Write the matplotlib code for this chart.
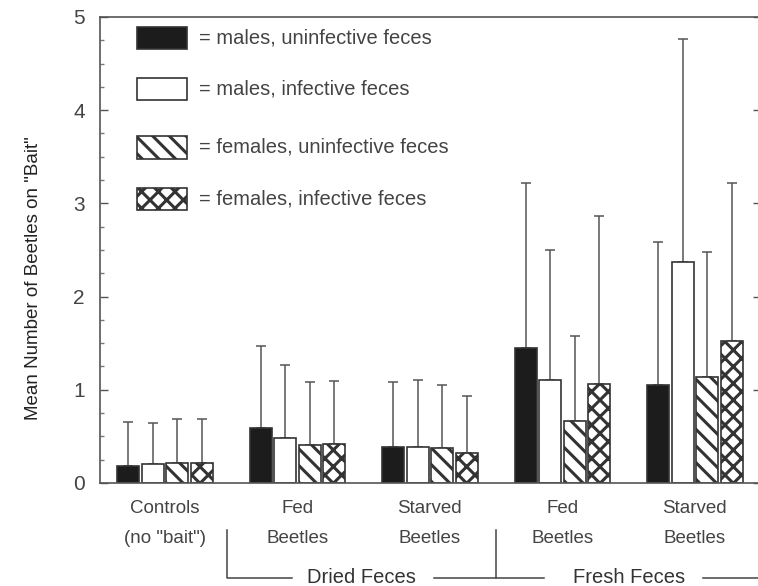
import numpy as np
import matplotlib
matplotlib.use("Agg")
import matplotlib.pyplot as plt
from matplotlib.patches import Rectangle
import matplotlib.transforms as mtransforms

plt.rcParams['font.family'] = ['Liberation Sans', 'DejaVu Sans']
plt.rcParams['hatch.linewidth'] = 2.2
plt.rcParams['hatch.color'] = '#2a2a2a'

# grupos e series
groups = ['Controls\n(no "bait")', 'Fed\nBeetles', 'Starved\nBeetles', 'Fed\nBeetles', 'Starved\nBeetles']
series = ['= males, uninfective feces', '= males, infective feces',
          '= females, uninfective feces', '= females, infective feces']

males_uninf = [0.18, 0.59, 0.39, 1.45, 1.05]
males_inf = [0.20, 0.48, 0.39, 1.10, 2.37]
females_uninf = [0.21, 0.41, 0.37, 0.66, 1.14]
females_inf = [0.21, 0.42, 0.32, 1.06, 1.52]

males_uninf_sd = [0.47, 0.88, 0.69, 1.77, 1.53]
males_inf_sd = [0.44, 0.79, 0.71, 1.40, 2.39]
females_uninf_sd = [0.48, 0.67, 0.68, 0.92, 1.34]
females_inf_sd = [0.48, 0.67, 0.61, 1.80, 1.70]

means = [males_uninf, males_inf, females_uninf, females_inf]
sds = [males_uninf_sd, males_inf_sd, females_uninf_sd, females_inf_sd]
faces = ['#1c1c1c', 'white', 'white', 'white']
hatches = [None, None, '\\\\', 'xx']

fig = plt.figure(figsize=(7.58, 5.86), dpi=100)
ax = fig.add_axes([0.132, 0.176, 0.872, 0.795])

x = np.arange(len(groups))
w = 0.166
step = 0.185
for i in range(4):
    xi = x + (i - 1.5) * step
    ax.bar(xi, means[i], width=w, color=faces[i], edgecolor='#333333',
           linewidth=1.2, hatch=hatches[i], zorder=2)
    ax.errorbar(xi, means[i], yerr=[np.zeros(len(groups)), sds[i]], fmt='none',
                ecolor='#555555', elinewidth=1.1, capsize=3.5, capthick=1.1, zorder=1)

ax.set_xlim(-0.49, 4.5)
ax.set_ylim(0, 5)
ax.set_yticks([0, 1, 2, 3, 4, 5])
ax.set_yticks(np.arange(0, 5.01, 0.25), minor=True)
ax.tick_params(axis='y', which='major', direction='in', length=6, width=1,
               color='#555555', labelsize=15, labelcolor='#444444', pad=11)
ax.tick_params(axis='y', which='minor', direction='in', length=3, width=1, color='#777777')
ax.tick_params(axis='y', which='major', right=True)
ax.set_xticks(x)
ax.set_xticklabels(groups, fontsize=13.5, color='#444444', linespacing=2.0)
ax.tick_params(axis='x', length=0, pad=12)
for s in ax.spines.values():
    s.set_color('#555555')
    s.set_linewidth(1.2)

ax.set_ylabel('Mean Number of Beetles on "Bait"', fontsize=13.5, color='#222222')
ax.yaxis.set_label_coords(-0.088, 0.44)

# legenda desenhada dentro do grafico
for i in range(4):
    yc = [0.955, 0.845, 0.72, 0.61][i]
    ax.add_patch(Rectangle((0.056, yc - 0.024), 0.076, 0.048, transform=ax.transAxes,
                           facecolor=faces[i], edgecolor='#333333', linewidth=1.2,
                           hatch=hatches[i], zorder=3))
    ax.text(0.149, yc, series[i], transform=ax.transAxes, fontsize=14.5,
            color='#444444', va='center', ha='left')

# colchetes Dried / Fresh Feces
tr = mtransforms.blended_transform_factory(ax.transData, ax.transAxes)
lk = dict(transform=tr, color='#444444', lw=1.1, clip_on=False)
ax.plot([0.47, 0.47, 0.96], [-0.101, -0.204, -0.204], **lk)
ax.plot([2.03, 2.5, 2.86], [-0.204, -0.204, -0.204], **lk)
ax.plot([2.5, 2.5], [-0.101, -0.204], **lk)
ax.plot([4.06, 4.6], [-0.204, -0.204], **lk)
ax.text(1.48, -0.204, 'Dried Feces', transform=tr, fontsize=14.5, color='#333333',
        ha='center', va='center')
ax.text(3.5, -0.204, 'Fresh Feces', transform=tr, fontsize=14.5, color='#333333',
        ha='center', va='center')

fig.savefig('out.png', dpi=100)
